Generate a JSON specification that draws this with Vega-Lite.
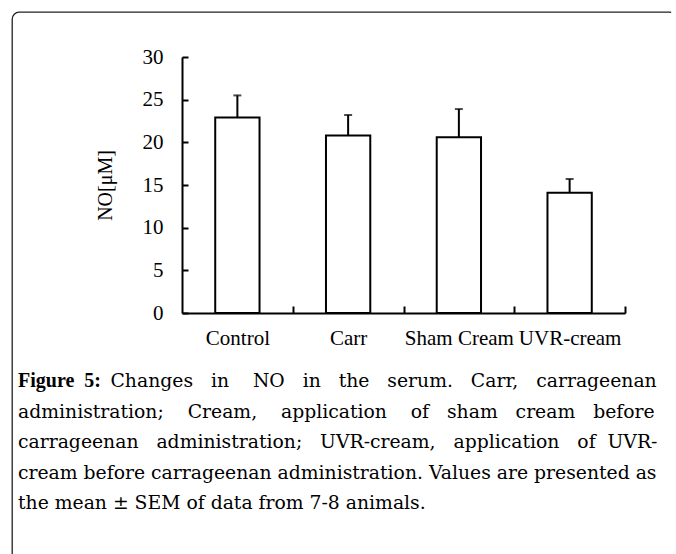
{
  "$schema": "https://vega.github.io/schema/vega-lite/v6.json",
  "width": 664,
  "height": 560,
  "autosize": {"type": "none"},
  "padding": {"left": 12, "top": 12, "right": 0, "bottom": -18},
  "background": "white",
  "config": {
    "view": {"stroke": "#222222", "strokeWidth": 1.3, "cornerRadius": 7, "fill": "white", "strokeDash": [652, 1220, 570, 100]},
    "axis": {
      "domainColor": "black", "domainWidth": 2, "tickColor": "black", "tickWidth": 2,
      "labelFont": "Liberation Serif", "labelFontSize": 21, "labelColor": "black",
      "titleFont": "Liberation Serif", "titleFontSize": 20, "titleFontWeight": "normal", "titleColor": "black",
      "grid": false
    }
  },
  "data": {"values": [
    {"group": "Control", "mean": 22.9, "upper": 25.5},
    {"group": "Carr", "mean": 20.8, "upper": 23.2},
    {"group": "Sham Cream", "mean": 20.6, "upper": 23.9},
    {"group": "UVR-cream", "mean": 14.1, "upper": 15.7}
  ]},
  "title": {
    "text": "Figure \u00a05:",
    "subtitle": [
      "administration;\u00a0\u00a0\u00a0 Cream,\u00a0\u00a0\u00a0 application\u00a0\u00a0\u00a0 of\u00a0\u00a0 sham\u00a0\u00a0 cream\u00a0\u00a0 before",
      "carrageenan\u00a0\u00a0 administration;\u00a0\u00a0 UVR-cream,\u00a0\u00a0 application\u00a0\u00a0 of\u00a0 UVR-",
      "cream before carrageenan administration. Values are presented as",
      "the mean ± SEM of data from 7-8 animals."
    ],
    "orient": "bottom",
    "anchor": "start",
    "frame": "group",
    "offset": -201,
    "dx": 6,
    "font": "Liberation Serif",
    "fontSize": 20,
    "fontWeight": "bold",
    "color": "black",
    "subtitleFont": "DejaVu Serif",
    "subtitleFontSize": 18.8,
    "subtitleColor": "black",
    "subtitleLineHeight": 30.5,
    "subtitlePadding": 11.5
  },
  "encoding": {
    "x": {
      "field": "group", "type": "nominal", "sort": null,
      "scale": {"range": [170, 613], "paddingInner": 0.6, "paddingOuter": 0.3},
      "axis": {
        "title": "Changes\u00a0\u00a0 in\u00a0\u00a0\u00a0 NO\u00a0\u00a0 in\u00a0\u00a0 the\u00a0\u00a0 serum.\u00a0\u00a0 Carr,\u00a0\u00a0 carrageenan",
        "titleFont": "DejaVu Serif", "titleFontSize": 18.8, "titleX": 98, "titleY": 58,
        "titleAlign": "left", "titleBaseline": "top", "titleAnchor": null,
        "labelAngle": 0, "tickOffset": 55.375, "labelOffset": -55.375,
        "tickSize": -7, "offset": -259, "labelPadding": 21, "labelOverlap": false
      }
    }
  },
  "layer": [
    {
      "mark": {"type": "bar", "fill": "white", "stroke": "black", "strokeWidth": 2},
      "encoding": {
        "y": {
          "field": "mean", "type": "quantitative",
          "scale": {"domain": [0, 30], "range": [301, 45], "nice": false},
          "axis": {"title": "NO[μM]", "values": [0, 5, 10, 15, 20, 25, 30], "tickSize": -6, "offset": -170, "labelPadding": 25, "titlePadding": 27}
        }
      }
    },
    {
      "mark": {"type": "rule", "strokeWidth": 2, "color": "black"},
      "encoding": {"y": {"field": "mean", "type": "quantitative"}, "y2": {"field": "upper"}}
    },
    {
      "mark": {"type": "tick", "size": 8, "thickness": 2, "color": "black", "orient": "horizontal"},
      "encoding": {"y": {"field": "upper", "type": "quantitative"}}
    }
  ]
}
